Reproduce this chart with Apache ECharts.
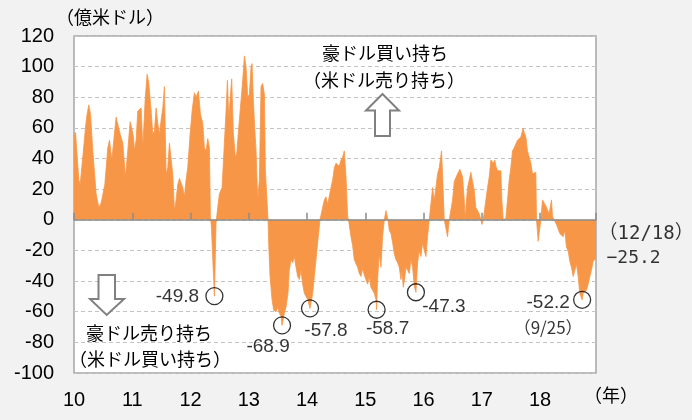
<!DOCTYPE html>
<html><head><meta charset="utf-8">
<script src="https://cdn.jsdelivr.net/npm/echarts@6/dist/echarts.min.js"></script>
<style>html,body{margin:0;padding:0;background:#f2f2f2}#c{width:692px;height:420px}</style>
</head><body><div id="c"></div>
<script>
// ---- data ----
const dates = [
2010.000,2010.026,2010.049,2010.083,2010.106,2010.151,2010.197,2010.220,2010.254,2010.283,2010.323,2010.380,2010.426,2010.466,2010.495,2010.529,2010.580,2010.609,2010.649,2010.683,2010.723,2010.752,2010.792,2010.838,2010.883,2010.923,2010.963,2010.992,
2011.021,2011.038,2011.066,2011.095,2011.124,2011.152,2011.181,2011.221,2011.255,2011.284,2011.324,2011.352,2011.381,2011.409,2011.438,2011.467,2011.495,2011.524,2011.552,2011.581,2011.609,2011.638,2011.667,2011.695,2011.724,2011.752,2011.781,2011.810,2011.838,2011.867,2011.895,2011.924,2011.952,2011.993,
2012.027,2012.067,2012.095,2012.136,2012.170,2012.210,2012.238,2012.267,2012.296,2012.324,2012.341,2012.358,2012.410,2012.438,2012.467,2012.496,2012.541,2012.581,2012.610,2012.633,2012.656,2012.679,2012.707,2012.736,2012.770,2012.793,2012.827,2012.867,2012.896,2012.925,2012.953,2012.982,
2013.010,2013.039,2013.056,2013.079,2013.102,2013.125,2013.153,2013.182,2013.210,2013.239,2013.268,2013.285,2013.313,2013.331,2013.342,2013.365,2013.399,2013.428,2013.468,2013.496,2013.525,2013.554,2013.571,2013.611,2013.639,2013.673,2013.696,2013.725,2013.754,2013.782,2013.811,2013.839,2013.868,2013.897,2013.925,2013.954,2013.982,
2014.011,2014.051,2014.097,2014.125,2014.154,2014.182,2014.222,2014.297,2014.325,2014.354,2014.411,2014.440,2014.468,2014.497,2014.554,2014.583,2014.611,2014.640,2014.669,2014.697,2014.712,2014.754,2014.783,2014.811,2014.868,2014.897,2014.926,2014.954,2014.983,
2015.011,2015.040,2015.069,2015.097,2015.126,2015.154,2015.183,2015.194,2015.211,2015.240,2015.269,2015.297,2015.326,2015.355,2015.389,2015.412,2015.440,2015.469,2015.497,2015.526,2015.555,2015.583,2015.612,2015.629,2015.652,2015.680,2015.697,2015.726,2015.755,2015.783,2015.812,2015.840,2015.869,2015.898,2015.926,2015.955,2015.983,
2016.012,2016.041,2016.069,2016.098,2016.155,2016.184,2016.212,2016.241,2016.269,2016.309,2016.326,2016.355,2016.412,2016.441,2016.498,2016.527,2016.555,2016.584,2016.624,2016.641,2016.670,2016.698,2016.715,2016.727,2016.755,2016.784,2016.812,2016.841,2016.870,2016.898,2016.955,2016.984,
2017.001,2017.024,2017.070,2017.098,2017.127,2017.156,2017.184,2017.201,2017.224,2017.241,2017.270,2017.327,2017.344,2017.367,2017.413,2017.441,2017.470,2017.498,2017.527,2017.556,2017.584,2017.613,2017.641,2017.670,2017.710,2017.727,2017.756,2017.784,2017.813,2017.841,2017.870,2017.927,2017.939,2017.967,
2018.013,2018.042,2018.070,2018.099,2018.127,2018.156,2018.196,2018.213,2018.242,2018.282,2018.339,2018.396,2018.425,2018.453,2018.482,2018.510,2018.539,2018.568,2018.597,2018.625,2018.654,2018.682,2018.722,2018.739,2018.797,2018.825,2018.854,2018.882,2018.911,2018.960
];
const values = [
55,57,56,26,23,41,60,68,75,69,45,17,8,11,10,23,47,52,39,52,67,67,56,50,28,45,64,60,
54,45,52,71,72,73,47,78,95,89,71,56,58,73,63,56,65,73,87,30,34,50,50,30,6,13,23,27,28,21,15,26,34,56,
71,83,80,84,69,63,47,45,53,47,2,-4,-49.8,-2,8,17,21,50,71,91,67,78,92,56,41,43,60,78,91,107,100,80,
82,100,102,78,60,45,13,26,87,89,82,32,31,0,-15,-37,-52,-59,-60,-57,-61,-63,-68.9,-61,-57,-48,-33,-26,-28,-24,-31,-37,-39,-33,-42,-48,-50,
-52,-57.8,-48,-37,-26,-15,0,13,15,10,21,26,34,37,35,39,41,45,28,2,0,-11,-17,-26,-31,-35,-37,-32,-36,
-39,-42,-37,-44,-46,-48,-52,-58.7,-39,-22,-31,-11,0,6,0,-7,-9,-15,-22,-26,-28,-31,-39,-33,-44,-37,-31,-33,-35,-26,-31,-43,-47.3,-28,-20,-24,-15,
-20,-24,-11,0,21,13,21,30,34,45,30,0,-11,0,13,25,25,30,33,31,28,13,0,8,21,26,31,31,19,8,4,0,
-3,0,13,21,28,39,39,37,39,35,32,32,13,0,1,13,26,34,45,47,46,52,53,54,60,57,54,45,41,37,30,31,0,-14,
0,13,11,9,8,4,13,2,0,-3,-9,-11,-7,-18,-20,-27,-31,-37,-33,-29,-37,-48,-52.2,-48,-46,-42,-37,-33,-27,-25.2
];
const xTickLabels = ['10','11','12','13','14','15','16','17','18'];
const lowDates  = [2012.410, 2013.571, 2014.051, 2015.194, 2015.869, 2018.722];
const lowValues = [-49.8, -68.9, -57.8, -58.7, -47.3, -52.2];
const lowNotes  = ['', '', '', '', '', '（9/25）'];
const lastDate = 2018.960, lastValue = -25.2, lastNote = '（12/18）';

// ---- presentation ----
const lowOffsets = [[-37,1],[-14,21],[16,22],[11,19],[28,14],[-34,15]];
const NUM_FONT = '"Liberation Sans", Arial, sans-serif';
const JP_FONT = '"Noto Sans CJK JP", "Noto Sans", sans-serif';
const MONO_FONT = '"DejaVu Sans Mono", "Noto Sans CJK JP", monospace';

const chart = echarts.init(document.getElementById('c'), null, {renderer: 'canvas'});
const orange = '#f79646';
const axisGray = '#8c8c8c';

chart.setOption({
  backgroundColor: '#f2f2f2',
  animation: false,
  grid: {left: 74, right: 96, top: 36, bottom: 47, show: true, backgroundColor: '#ffffff',
         borderColor: '#a6a6a6', borderWidth: 1.5},
  xAxis: [{
    type: 'value', min: 2010, max: lastDate, interval: 1, position: 'bottom',
    axisLine: {show: false, onZero: false}, axisTick: {show: false}, splitLine: {show: false},
    axisLabel: {fontSize: 20, color: '#000', fontFamily: NUM_FONT, margin: 17, showMaxLabel: false,
      formatter: v => { const r = Math.round(v); return Math.abs(v - r) < 1e-6 ? xTickLabels[r - 2010] : ''; }}
  }, {
    type: 'value', min: 2010, max: lastDate, interval: 1, position: 'bottom', z: 5,
    axisLine: {show: true, onZero: true, lineStyle: {color: axisGray, width: 1.5}},
    axisTick: {show: true, inside: true, length: 7, lineStyle: {color: axisGray, width: 1.5}},
    axisLabel: {show: false}, splitLine: {show: false}
  }],
  yAxis: {
    type: 'value', min: -100, max: 120, interval: 20,
    axisLine: {show: false}, axisTick: {show: false},
    axisLabel: {fontSize: 20, color: '#000', fontFamily: NUM_FONT, margin: 20},
    splitLine: {show: true, lineStyle: {color: '#c4c4c4', type: [4, 3], width: 1}}
  },
  series: [{
    type: 'line', xAxisIndex: 0, data: dates.map((d, i) => [d, values[i]]),
    symbol: 'none', lineStyle: {color: orange, width: 0.8},
    areaStyle: {color: orange, opacity: 1}, z: 2
  }, {
    type: 'scatter', xAxisIndex: 0, z: 6,
    symbol: 'circle', symbolSize: 17,
    itemStyle: {color: 'rgba(255,255,255,0)', borderColor: '#000', borderWidth: 1.3},
    data: lowDates.map((d, i) => ({
      value: [d, lowValues[i]],
      label: {
        show: true, position: 'inside', offset: lowOffsets[i],
        formatter: lowNotes[i] ? '{n|' + lowValues[i].toFixed(1) + '}\n{d|' + lowNotes[i] + '}' : '{n|' + lowValues[i].toFixed(1) + '}',
        rich: {
          n: {fontSize: 19, fontFamily: NUM_FONT, color: '#000', lineHeight: 25},
          d: {fontSize: 17, fontFamily: JP_FONT, color: '#000', lineHeight: 25}
        }
      }
    }))
  }, {
    type: 'scatter', xAxisIndex: 0, z: 6, symbolSize: 1,
    itemStyle: {color: 'rgba(0,0,0,0)'},
    data: [{
      value: [lastDate, lastValue],
      label: {
        show: true, position: 'right', distance: 2, offset: [0, -12], align: 'left',
        formatter: '{d|' + lastNote + '}\n{n|' + '−' + Math.abs(lastValue).toFixed(1) + '}',
        rich: {
          d: {fontSize: 19, fontFamily: MONO_FONT, color: '#000', lineHeight: 24},
          n: {fontSize: 18, fontFamily: MONO_FONT, color: '#000', lineHeight: 24, padding: [0, 0, 0, 8]}
        }
      }
    }]
  }],
  graphic: [
    {type: 'text', left: 56, top: 8, style: {text: '（億米ドル）', fontSize: 18, fontFamily: JP_FONT, fill: '#000'}},
    {type: 'text', left: 584, top: 386, style: {text: '（年）', fontSize: 18, fontFamily: JP_FONT, fill: '#000'}},
    {type: 'text', x: 385, y: 53, style: {text: '豪ドル買い持ち', fontSize: 18, fontFamily: JP_FONT, fill: '#000', align: 'center', verticalAlign: 'middle'}, z: 10},
    {type: 'text', x: 384, y: 80, style: {text: '（米ドル売り持ち）', fontSize: 18, fontFamily: JP_FONT, fill: '#000', align: 'center', verticalAlign: 'middle'}, z: 10},
    {type: 'text', x: 149, y: 333, style: {text: '豪ドル売り持ち', fontSize: 18, fontFamily: JP_FONT, fill: '#000', align: 'center', verticalAlign: 'middle'}, z: 10},
    {type: 'text', x: 150, y: 359, style: {text: '（米ドル買い持ち）', fontSize: 18, fontFamily: JP_FONT, fill: '#000', align: 'center', verticalAlign: 'middle'}, z: 10},
    {type: 'polygon', z: 10, shape: {points: [[382.5,94],[399,110.5],[390,110.5],[390,136],[375,136],[375,110.5],[366,110.5]]},
      style: {fill: '#fff', stroke: '#808080', lineWidth: 2}},
    {type: 'polygon', z: 10, shape: {points: [[98.5,275],[115,275],[115,299],[124,299],[106.7,315],[90,299],[98.5,299]]},
      style: {fill: '#fff', stroke: '#808080', lineWidth: 2}}
  ]
});
</script>
</body></html>
